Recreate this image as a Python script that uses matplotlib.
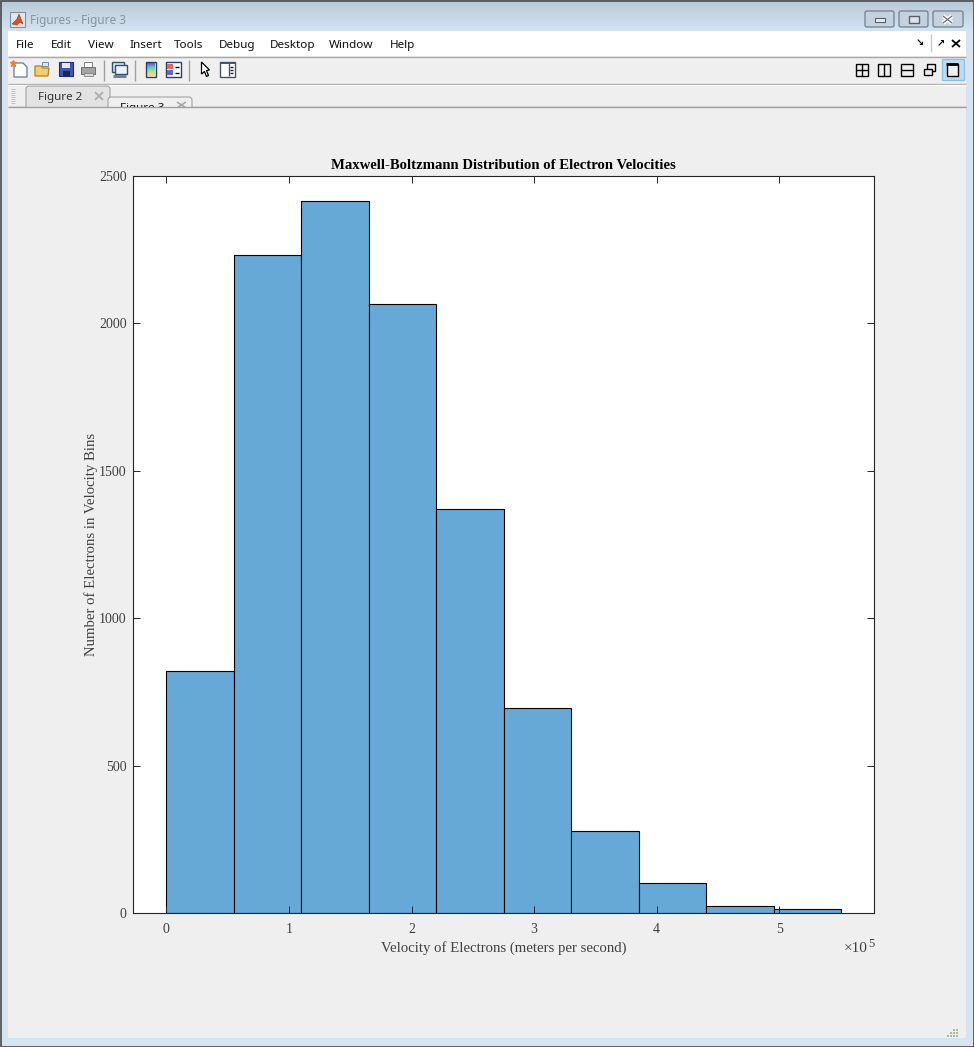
import numpy as np
import matplotlib
matplotlib.use("Agg")
import matplotlib.pyplot as plt
from matplotlib.patches import Rectangle, Polygon, FancyBboxPatch

# histogram data, velocities in units of 1e5 m/s
bin_edges = [0, 0.5505, 1.101, 1.6515, 2.202, 2.7525, 3.303, 3.8535, 4.404, 4.9545, 5.505]
bin_counts = [820, 2230, 2413, 2065, 1370, 695, 278, 103, 25, 12]
x_ticks = [0, 1, 2, 3, 4, 5]
y_ticks = [0, 500, 1000, 1500, 2000, 2500]
menu_labels = ["File", "Edit", "View", "Insert", "Tools", "Debug", "Desktop", "Window", "Help"]
menu_x = [16, 51, 88, 129, 174, 219, 270, 329, 390]

W, H = 974, 1047
serif = "Liberation Serif"
ui_font = "Noto Sans"
text_grey = "#404040"
bg = "#efefef"
frame = "#d6e4f1"

fig = plt.figure(figsize=(W / 100, H / 100), dpi=100, facecolor=bg)

# ----- window chrome, drawn in pixel coords -----
win = fig.add_axes([0, 0, 1, 1], zorder=0)
win.set_xlim(0, W)
win.set_ylim(H, 0)
win.axis("off")


def rect(x, y, w, h, fc="none", ec="none", lw=1, z=2):
    win.add_patch(Rectangle((x, y), w, h, facecolor=fc, edgecolor=ec, linewidth=lw, zorder=z))


def line(xs, ys, color="black", lw=1, z=3):
    win.plot(xs, ys, color=color, lw=lw, zorder=z, solid_capstyle="butt")


# frame and title bar
rect(0, 0, W, H, fc=frame, z=0)
grad = np.linspace(0, 1, 31)[:, None]
top_col = np.array([0.72, 0.79, 0.85])
bot_col = np.array([0.83, 0.89, 0.94])
win.imshow((top_col + (bot_col - top_col) * grad)[:, None, :].reshape(31, 1, 3),
           extent=[0, W, 31, 0], aspect="auto", zorder=1)
win.set_xlim(0, W)
win.set_ylim(H, 0)
rect(8, 31, W - 16, 1007, fc=bg, z=1)
rect(0.5, 0.5, W - 1, H - 1, ec="#4a4a4a", lw=1.2, z=6)

# matlab logo and title
rect(10, 12, 15, 15, fc="#dfe6ee", ec="#7f8fa0", lw=0.8)
win.add_patch(Polygon([[12, 24], [17, 19], [19, 14], [23, 24], [20, 22], [17, 25]], fc="#d9541e", ec="#b03010", lw=0.4, zorder=3))
win.text(30, 24, "Figures - Figure 3", family=ui_font, fontsize=8.5, color="#8a949e", va="baseline")

# window buttons
for x0, w0 in [(864, 31), (898, 31), (932, 32)]:
    win.add_patch(FancyBboxPatch((x0 + 1, 11), w0 - 2, 16, boxstyle="round,pad=0,rounding_size=2",
                                 fc="#c4d2df", ec="#6f7f8f", lw=0.9, zorder=2))
rect(875, 18, 10, 4, fc="#e8edf2", ec="#55606a", lw=0.8, z=3)
rect(908.5, 16, 10, 6.5, fc="#dce4ec", ec="#55606a", lw=1, z=3)
line([943, 952], [16, 23], color="#f4f6f8", lw=3.2)
line([943, 952], [23, 16], color="#f4f6f8", lw=3.2)
line([943, 952], [16, 23], color="#5a6670", lw=0.8, z=4)
line([943, 952], [23, 16], color="#5a6670", lw=0.8, z=4)

# menu bar
rect(8, 31, W - 16, 25, fc="white")
line([8, W - 8], [56.5, 56.5], color="#a8a8a8", lw=1)
for label, mx in zip(menu_labels, menu_x):
    win.text(mx, 48, label, family=ui_font, fontsize=8.4, color="#111111", va="baseline")
win.text(920, 43, "↘", family="DejaVu Sans", fontsize=7, fontweight="bold", ha="center", va="center")
line([931, 931], [34, 52], color="#c8c8c8")
win.text(940.5, 43, "↗", family="DejaVu Sans", fontsize=7, fontweight="bold", ha="center", va="center")
line([952, 960], [40, 47], lw=1.3)
line([952, 960], [47, 40], lw=1.3)

# toolbar separators and lines
for sx in [103.5, 134.5, 188.5]:
    line([sx, sx], [60, 81], color="#a0a0a0")
line([8, W - 8], [83.5, 83.5], color="#a8a8a8", lw=1)
line([8, W - 8], [84.5, 84.5], color="white", lw=1)
line([8, W - 8], [106.5, 106.5], color="#a0a0a0", lw=1)

# toolbar icons
win.add_patch(Polygon([[14, 63], [23, 63], [27, 67], [27, 77], [14, 77]], fc="white", ec="#5f7f9f", lw=0.9, zorder=3))
win.plot([13], [63], marker="*", ms=5, color="#e8803a", zorder=4)
win.add_patch(Polygon([[35, 66], [41, 66], [43, 68], [49, 68], [48, 76], [35, 76]], fc="#f2cf6a", ec="#a8852f", lw=0.9, zorder=3))
rect(42, 62, 6, 4, fc="#dfe6ee", ec="#7a8a9a", lw=0.7)
rect(59, 62, 14, 14, fc="#3f55b5", ec="#1f2f70", lw=0.8, z=3)
rect(62, 62.5, 8, 5, fc="#e4e8f4", z=4)
rect(63, 71, 7, 5, fc="#20264a", z=4)
rect(84, 62, 8, 5, fc="white", ec="#808080", lw=0.7, z=3)
rect(81, 67, 14, 7, fc="#a4a4a4", ec="#707070", lw=0.7, z=4)
rect(84, 73, 9, 3, fc="#d8d8d8", ec="#808080", lw=0.6, z=5)
rect(112, 62, 12, 10, fc="#dfe8f2", ec="#30506f", lw=1, z=3)
rect(115, 65, 12, 9, fc="#eef3f8", ec="#30506f", lw=1, z=4)
line([113, 126], [76, 76], color="#6f8296", lw=2.2, z=5)
win.imshow(np.array([[[0.35, 0.42, 0.82]], [[0.35, 0.78, 0.85]], [[0.65, 0.88, 0.55]], [[0.97, 0.84, 0.55]]]),
           extent=[146, 155, 76, 62], aspect="auto", zorder=3, interpolation="bilinear")
win.set_xlim(0, W)
win.set_ylim(H, 0)
rect(145.5, 61.5, 10, 15, ec="#30405f", lw=1, z=4)
rect(165.5, 61.5, 15, 15, fc="white", ec="#30405f", lw=1, z=3)
rect(167, 64, 6, 5, fc="#e8606a", z=4)
rect(167, 70, 6, 5, fc="#5a6ad8", z=4)
line([175, 179], [66.5, 66.5], lw=1, z=4)
line([175, 179], [72.5, 72.5], lw=1, z=4)
win.add_patch(Polygon([[201.5, 62], [201.5, 74], [204.5, 71.5], [206.5, 76.5], [208.5, 75.5], [206.5, 70.5], [209.5, 70]],
                      fc="white", ec="black", lw=0.9, zorder=3))
rect(219.5, 61.5, 15, 15, fc="white", ec="#44546a", lw=1, z=3)
rect(219.5, 61.5, 15, 2, fc="#44546a", z=4)
line([228.5, 228.5], [63, 76], color="#44546a", z=4)
for iy in [66.5, 69.5, 72.5]:
    line([230, 233], [iy, iy], color="#222222", z=4)

# dock layout icons
rect(855.5, 63.5, 12, 12, ec="black", lw=1, z=3)
line([861.5, 861.5], [63.5, 75.5], lw=1)
line([855.5, 867.5], [69.5, 69.5], lw=1)
rect(877.5, 63.5, 12, 12, ec="black", lw=1, z=3)
line([883.5, 883.5], [63.5, 75.5], lw=1)
rect(900.5, 63.5, 12, 12, ec="black", lw=1, z=3)
line([900.5, 912.5], [69.5, 69.5], lw=1)
rect(926.5, 63.5, 8, 7, fc=bg, ec="black", lw=1, z=3)
rect(923.5, 68.5, 8, 6, fc=bg, ec="black", lw=1, z=4)
rect(941.5, 58.5, 22, 21, fc="#bcdcf6", ec="#90c0ea", lw=1, z=3)
rect(946.5, 63.5, 11, 12, fc=bg, ec="black", lw=1, z=4)
line([946, 958], [64, 64], lw=2, z=5)

# grip and tabs
for gy in np.arange(89, 105, 2):
    line([11, 15], [gy, gy], color="#c0c0c0", lw=0.7)
win.add_patch(FancyBboxPatch((26, 86), 84, 26, boxstyle="round,pad=0,rounding_size=3", fc="#e3e3e3", ec="#9a9a9a", lw=0.7, zorder=3))
win.text(38, 100, "Figure 2", family=ui_font, fontsize=8.4, color="#333333", va="baseline", zorder=4)
line([95, 103], [92, 100], color="#b0b0b0", lw=1.4, z=4)
line([95, 103], [100, 92], color="#b0b0b0", lw=1.4, z=4)
win.add_patch(FancyBboxPatch((108, 97), 84, 20, boxstyle="round,pad=0,rounding_size=3", fc=bg, ec="#9a9a9a", lw=0.7, zorder=5))
win.text(120, 111, "Figure 3", family=ui_font, fontsize=8.4, color="#111111", va="baseline", zorder=6)
line([177, 186], [102, 108], color="#a8a8a8", lw=1.2, z=6)
line([177, 186], [108, 102], color="#a8a8a8", lw=1.2, z=6)
# tabs get cut off at the strip's bottom line
rect(8, 107, W - 16, 14, fc=bg, z=7)
line([8, W - 8], [106.5, 106.5], color="#a0a0a0", lw=1, z=8)

# resize grip
for gx, gy in [(958, 1035), (955, 1032), (955, 1035), (952, 1035), (958, 1032), (958, 1029), (961, 1035), (961, 1032), (961, 1029)]:
    rect(gx - 5, gy, 1.6, 1.6, fc="#b8b4a4", z=4)

# ----- the chart -----
ax_left, ax_right, ax_top, ax_bottom = 133, 874, 175.8, 913
ax = fig.add_axes([ax_left / W, 1 - ax_bottom / H, (ax_right - ax_left) / W, (ax_bottom - ax_top) / H], zorder=2)
ax.set_facecolor("white")

widths = np.diff(bin_edges)
ax.bar(bin_edges[:-1], bin_counts, width=widths, align="edge", color="#66a9d7", edgecolor="black", linewidth=0.8)

ax.set_xlim(-0.272, 5.773)
ax.set_ylim(0, 2500)
ax.set_xticks(x_ticks)
ax.set_yticks(y_ticks)
ax.tick_params(direction="in", length=5, width=0.7, top=True, right=True, color="#262626",
               labelsize=10, labelcolor=text_grey)
ax.tick_params(axis="x", pad=7)
ax.tick_params(axis="y", pad=4.5)
for lab in ax.get_xticklabels() + ax.get_yticklabels():
    lab.set_family(serif)
for s in ax.spines.values():
    s.set_linewidth(0.8)
    s.set_color("#262626")

ax.set_title("Maxwell-Boltzmann Distribution of Electron Velocities", family=serif, fontsize=10.6,
             fontweight="bold", color="black", pad=5)
ax.set_xlabel("Velocity of Electrons (meters per second)", family=serif, fontsize=10.6, color=text_grey, labelpad=3.5)
ax.set_ylabel("Number of Electrons in Velocity Bins", family=serif, fontsize=10.6, color=text_grey, labelpad=0.5)

# exponent label at the end of the x axis
ax.text(0.992, -0.0488, "×10", transform=ax.transAxes, family=serif, fontsize=11, color=text_grey,
        ha="right", va="center")
ax.text(0.992, -0.0425, "5", transform=ax.transAxes, family=serif, fontsize=9, color=text_grey,
        ha="left", va="center")

fig.savefig("out.png", dpi=100, facecolor=fig.get_facecolor())
